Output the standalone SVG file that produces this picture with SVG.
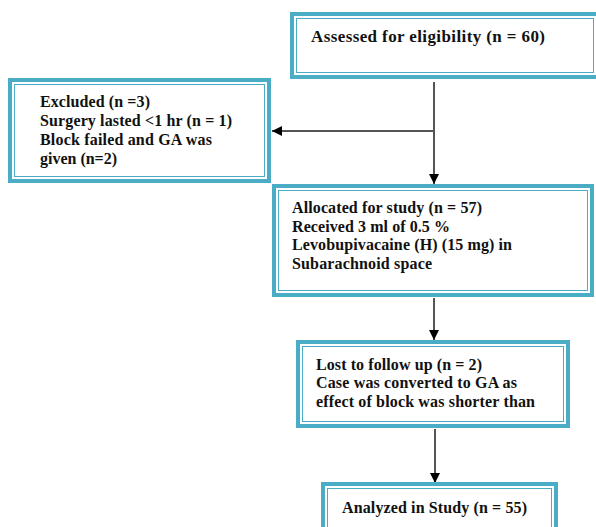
<svg xmlns="http://www.w3.org/2000/svg" width="596" height="527" viewBox="0 0 596 527">
<style>
.outer{fill:#fff;stroke:#4BACC6;stroke-width:4}
.inner{fill:none;stroke:#4BACC6;stroke-width:1}
text{font-family:"Liberation Serif","Times New Roman",serif;font-weight:bold;font-size:16px;fill:#111}
.big{font-size:17px}
.conn{stroke:#555;stroke-width:2;fill:none}
</style>
<defs>
<marker id="ah" markerWidth="10" markerHeight="10" refX="10" refY="5" orient="auto" markerUnits="userSpaceOnUse">
<path d="M0,0 L10,5 L0,10 Z" fill="#000"/>
</marker>
</defs>
<rect width="596" height="527" fill="#fff"/>
<g id="connectors">
<line class="conn" x1="434" y1="82" x2="434" y2="184" marker-end="url(#ah)"/>
<line class="conn" x1="434" y1="131" x2="272" y2="131" marker-end="url(#ah)"/>
<line class="conn" x1="434" y1="298" x2="434" y2="340" marker-end="url(#ah)"/>
<line class="conn" x1="435" y1="429" x2="435" y2="483" marker-end="url(#ah)"/>
</g>
<g id="assessed">
<rect class="outer" x="292" y="14" width="306" height="63"/>
<rect class="inner" x="296.5" y="18.5" width="297" height="54"/>
<text class="big" x="311" y="42" textLength="234" lengthAdjust="spacing">Assessed for eligibility (n = 60)</text>
</g>
<g id="excluded">
<rect class="outer" x="10" y="80" width="259" height="101"/>
<rect class="inner" x="14.5" y="84.5" width="250" height="92"/>
<text x="40" y="107" textLength="110" lengthAdjust="spacing">Excluded (n =3)</text>
<text x="40" y="126" textLength="192" lengthAdjust="spacing">Surgery lasted &lt;1 hr (n = 1)</text>
<text x="40" y="145" textLength="172" lengthAdjust="spacing">Block failed and GA was</text>
<text x="40" y="164" textLength="77" lengthAdjust="spacing">given (n=2)</text>
</g>
<g id="allocated">
<rect class="outer" x="274" y="186" width="318" height="109"/>
<rect class="inner" x="278.5" y="190.5" width="309" height="100"/>
<text x="292" y="213" textLength="190" lengthAdjust="spacing">Allocated for study (n = 57)</text>
<text x="292" y="232" textLength="158" lengthAdjust="spacing">Received 3 ml of 0.5 %</text>
<text x="292" y="250" textLength="220" lengthAdjust="spacing">Levobupivacaine (H) (15 mg) in</text>
<text x="292" y="269" textLength="140" lengthAdjust="spacing">Subarachnoid space</text>
</g>
<g id="lost">
<rect class="outer" x="298" y="342" width="270" height="84"/>
<rect class="inner" x="302.5" y="346.5" width="261" height="75"/>
<text x="316" y="370" textLength="166" lengthAdjust="spacing">Lost to follow up (n = 2)</text>
<text x="316" y="388" textLength="201" lengthAdjust="spacing">Case was converted to GA as</text>
<text x="316" y="407" textLength="219" lengthAdjust="spacing">effect of block was shorter than</text>
</g>
<g id="analyzed">
<rect class="outer" x="323" y="484" width="233" height="60"/>
<rect class="inner" x="327.5" y="488.5" width="224" height="50"/>
<text x="342" y="513" textLength="185" lengthAdjust="spacing">Analyzed in Study (n = 55)</text>
</g>
</svg>
